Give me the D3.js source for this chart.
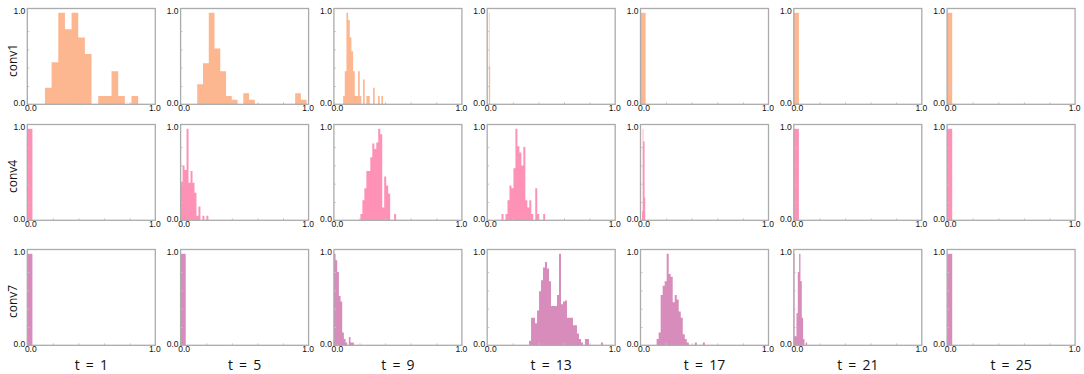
<!DOCTYPE html>
<html>
<head>
<meta charset="utf-8">
<script src="https://cdn.jsdelivr.net/npm/d3@7"></script>
<style>
  body { margin: 0; background: #fff; }
</style>
</head>
<body>
<div id="chart"></div>
<script>
// layers and time steps
const layers = ['conv1', 'conv4', 'conv7'];
const steps = [1, 5, 9, 13, 17, 21, 25];

// histogram bins: first bin edge, bin width, normalised bar heights (one entry per panel)
const conv1Start = [0.138, 0.13, 0.072, 0.013, 0, 0, 0];
const conv1Width = [0.052, 0.045, 0.013, 0.005, 0.04, 0.04, 0.04];
const conv1Heights = [
  [0.18, 0.46, 1, 0.82, 1, 0.73, 0.55, 0, 0.09, 0.09, 0.36, 0.09, 0, 0.09],
  [0.22, 0.45, 1, 0.61, 0.36, 0.09, 0.05, 0, 0.12, 0.05, 0, 0, 0, 0, 0, 0, 0, 0.12, 0.05],
  [0.09, 0.36, 1, 0.92, 0.73, 0.58, 0.36, 0.09, 0.09, 0.36, 0.09, 0, 0.27, 0, 0.09, 0.09, 0, 0, 0.18, 0, 0, 0.09, 0, 0.09],
  [1, 0.42],
  [1],
  [1],
  [1]
];

const conv4Start = [0, 0, 0.207, 0.112, 0.012, 0, 0];
const conv4Width = [0.04, 0.0155, 0.0155, 0.0155, 0.005, 0.04, 0.04];
const conv4Heights = [
  [1],
  [0.42, 0.6, 0.55, 1, 0.41, 0.54, 0.41, 0.3, 0.05, 0.15, 0, 0.05, 0, 0.05],
  [0.07, 0.22, 0.35, 0.54, 0.54, 0.69, 0.84, 0.78, 0.85, 1, 0.94, 0.14, 0.48, 0.38, 0.29, 0, 0, 0.07],
  [0.07, 0, 0.07, 0.22, 0.38, 0.35, 0.57, 1, 0.81, 0.74, 0.6, 0.8, 0.22, 0.14, 0.22, 0.07, 0, 0.35, 0.07, 0, 0, 0.07],
  [0.1, 1, 0.86, 0.86, 0.25],
  [1],
  [1]
];

const conv7Start = [0, 0, 0, 0.327, 0.126, 0, 0];
const conv7Width = [0.04, 0.04, 0.013, 0.0156, 0.0157, 0.0052, 0.04];
const conv7Heights = [
  [1],
  [1],
  [1, 0.93, 0.8, 0.54, 0.48, 0.14, 0.07, 0.03, 0, 0.09, 0.03, 0.03],
  [0.05, 0.3, 0.3, 0.24, 0.38, 0.59, 0.71, 0.85, 0.91, 0.84, 0.7, 0.43, 0.43, 0.43, 0.55, 1, 0.45, 0.48, 0.49, 0.3, 0.3, 0.3, 0.22, 0.22, 0.13, 0.07, 0.03, 0, 0.07, 0.07, 0, 0, 0, 0, 0, 0, 0.03],
  [0.07, 0.14, 0.55, 0.65, 0.7, 1, 0.78, 0.75, 0.47, 0.55, 0.5, 0.37, 0.3, 0.12, 0.07, 0.03, 0, 0, 0, 0.03, 0, 0, 0, 0.03],
  [1, 0.1, 0.1, 0.1, 0.35, 0.35, 0.8, 0.8, 1, 1, 0.7, 0.7, 0.3, 0.3, 0.07, 0.07, 0, 0, 0.03, 0.03],
  [1]
];

const starts = [conv1Start, conv4Start, conv7Start];
const widths = [conv1Width, conv4Width, conv7Width];
const heights = [conv1Heights, conv4Heights, conv7Heights];
const colors = ['#fcb791', '#fd92b6', '#d88cbb'];

// layout
const width = 1084, height = 374;
const colLeft = 27.3, colStep = 153.3, panelW = 128;
const rowTops = [8.5, 124.5, 249.5], panelH = 95.8;
const tickFont = '"Liberation Sans", Arial, sans-serif';

const svg = d3.select('#chart')
  .append('svg')
  .attr('width', width)
  .attr('height', height);

layers.forEach((layer, r) => {
  const top = rowTops[r];

  // row label
  svg.append('text')
    .attr('transform', `translate(16.5,${top + panelH / 2 + 4}) rotate(-90)`)
    .attr('text-anchor', 'middle')
    .attr('font-family', '"Open Sans", sans-serif')
    .attr('font-size', 12)
    .attr('fill', '#111')
    .text(layer);

  steps.forEach((t, c) => {
    const left = colLeft + c * colStep;
    const x = d3.scaleLinear().domain([0, 1]).range([left, left + panelW]);
    const y = d3.scaleLinear().domain([0, 1.047]).range([top + panelH, top]);
    const g = svg.append('g');

    // histogram as one stepped area so neighbouring bins have no seams
    const s = starts[r][c], w = widths[r][c];
    const pts = heights[r][c].flatMap((h, i) => [
      { v: s + i * w, h: h },
      { v: s + (i + 1) * w, h: h }
    ]);
    const area = d3.area()
      .x((d) => x(d.v))
      .y0(y(0))
      .y1((d) => y(d.h));

    g.append('path')
      .datum(pts)
      .attr('d', area)
      .attr('fill', colors[r]);

    // small inward ticks
    g.append('g')
      .attr('transform', `translate(0,${top + panelH})`)
      .call(d3.axisTop(x).tickValues([0.2, 0.4, 0.6, 0.8]).tickSize(2).tickFormat(''))
      .call((a) => a.select('.domain').remove())
      .selectAll('line').attr('stroke', '#c8c8c8');
    g.append('g')
      .attr('transform', `translate(${left},0)`)
      .call(d3.axisRight(y).tickValues([0.2, 0.4, 0.6, 0.8]).tickSize(2).tickFormat(''))
      .call((a) => a.select('.domain').remove())
      .selectAll('line').attr('stroke', '#c8c8c8');

    // frame
    g.append('rect')
      .attr('x', left)
      .attr('y', top)
      .attr('width', panelW)
      .attr('height', panelH)
      .attr('fill', 'none')
      .attr('stroke', '#ababab')
      .attr('stroke-width', 1.3);

    // x tick labels
    const xa = g.append('g')
      .attr('transform', `translate(0,${top + panelH})`)
      .call(d3.axisBottom(x).tickValues([0, 1]).tickSize(0).tickPadding(1).tickFormat(d3.format('.1f')))
      .attr('font-family', tickFont)
      .attr('font-size', 8.5);
    xa.select('.domain').remove();
    xa.selectAll('text')
      .attr('fill', '#111')
      .attr('dx', (d) => (d === 0 ? 3 : -1));

    // y tick labels
    const ya = g.append('g')
      .attr('transform', `translate(${left},0)`)
      .call(d3.axisLeft(y).tickValues([0, 1]).tickSize(0).tickPadding(2).tickFormat(d3.format('.1f')))
      .attr('font-family', tickFont)
      .attr('font-size', 8.5);
    ya.select('.domain').remove();
    ya.selectAll('text')
      .attr('fill', '#111')
      .attr('dy', '0.12em');

    // column label under the last row
    if (r === layers.length - 1) {
      svg.append('text')
        .attr('x', left + panelW / 2)
        .attr('y', 370)
        .attr('text-anchor', 'middle')
        .attr('font-family', '"Open Sans", sans-serif')
        .attr('font-size', 14)
        .attr('word-spacing', 2.5)
        .attr('fill', '#111')
        .text('t = ' + t);
    }
  });
});
</script>
</body>
</html>
